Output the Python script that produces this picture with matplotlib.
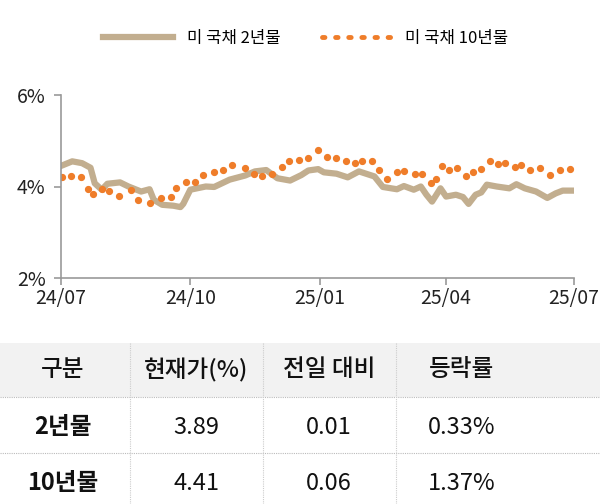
import matplotlib
matplotlib.use("Agg")
import matplotlib.pyplot as plt
from matplotlib import font_manager
import numpy as np
from matplotlib.patches import Rectangle

avail = {f.name for f in font_manager.fontManager.ttflist}
cands = ["Noto Sans CJK KR", "Noto Sans CJK JP", "Noto Sans CJK SC", "Noto Sans CJK TC"]
fams = [c for c in cands if c in avail] + ["DejaVu Sans"]
plt.rcParams["font.family"] = fams

series_names = ["미 국채 2년물", "미 국채 10년물"]
# days since 2024-07-01
days_2y = [0, 8, 15, 21, 24, 29, 33, 42, 48, 57, 63, 66, 72, 80, 85, 87, 92, 103, 109, 120, 131, 138, 146, 154, 163, 171, 176, 183, 187, 196, 204, 212, 223, 229, 239, 244, 251, 256, 260, 264, 270, 274, 281, 286, 290, 295, 299, 303, 310, 319, 324, 330, 338, 346, 352, 357, 363]
vals_2y = [4.45, 4.55, 4.51, 4.41, 4.07, 3.93, 4.06, 4.09, 4.00, 3.89, 3.94, 3.71, 3.60, 3.58, 3.55, 3.62, 3.93, 4.00, 3.99, 4.15, 4.24, 4.33, 4.36, 4.18, 4.13, 4.25, 4.35, 4.38, 4.31, 4.28, 4.20, 4.33, 4.22, 3.99, 3.94, 4.01, 3.93, 4.00, 3.82, 3.67, 3.96, 3.78, 3.82, 3.77, 3.62, 3.82, 3.87, 4.04, 4.00, 3.96, 4.05, 3.96, 3.89, 3.75, 3.85, 3.91, 3.91]
days_10y = [1, 7, 14, 19, 23, 29, 34, 41, 50, 55, 63, 71, 78, 82, 89, 95, 101, 109, 115, 122, 131, 137, 143, 150, 157, 162, 169, 176, 183, 189, 196, 203, 209, 214, 221, 226, 232, 239, 244, 252, 257, 263, 267, 271, 276, 282, 288, 293, 299, 305, 311, 316, 323, 327, 334, 341, 348, 355, 362]
vals_10y = [4.20, 4.24, 4.20, 3.95, 3.84, 3.94, 3.91, 3.80, 3.93, 3.71, 3.65, 3.75, 3.78, 3.96, 4.09, 4.09, 4.25, 4.31, 4.35, 4.46, 4.41, 4.27, 4.22, 4.27, 4.42, 4.56, 4.58, 4.63, 4.79, 4.64, 4.63, 4.55, 4.51, 4.56, 4.55, 4.35, 4.17, 4.31, 4.33, 4.27, 4.28, 4.07, 4.17, 4.45, 4.35, 4.41, 4.23, 4.31, 4.39, 4.55, 4.49, 4.52, 4.42, 4.47, 4.36, 4.40, 4.25, 4.35, 4.38]
x_tick_days = [0, 92, 184, 274, 365]
x_tick_labels = ["24/07", "24/10", "25/01", "25/04", "25/07"]
y_ticks = [2, 4, 6]
y_tick_labels = ["2%", "4%", "6%"]

table_header = ["구분", "현재가(%)", "전일 대비", "등락률"]
table_rows = [["2년물", "3.89", "0.01", "0.33%"],
              ["10년물", "4.41", "0.06", "1.37%"]]

c2 = "#c2ae8f"
c10 = "#ef7d2a"

fig = plt.figure(figsize=(6, 5.04), dpi=100)
W, H = 600, 504
ax = fig.add_axes([61/W, 1-278/H, (574-61)/W, (278-95)/H])
ax.plot(days_2y, vals_2y, color=c2, lw=4.5, solid_joinstyle="round", label=series_names[0])
ax.plot(days_10y, vals_10y, ls="none", marker="o", ms=4.2, color=c10, label=series_names[1])
ax.set_xlim(0, 365)
ax.set_ylim(2, 6)
ax.set_xticks(x_tick_days)
ax.set_xticklabels(x_tick_labels, fontsize=14)
ax.set_yticks(y_ticks)
ax.set_yticklabels(y_tick_labels, fontsize=14)
for s in ["top", "right"]:
    ax.spines[s].set_visible(False)
for s in ["left", "bottom"]:
    ax.spines[s].set_color("#999999")
    ax.spines[s].set_linewidth(1.2)
ax.tick_params(colors="#999999", labelcolor="#222222", length=5, width=1.2, pad=2)
ax.tick_params(axis="y", pad=6)

fig.legend(handles=[plt.Line2D([], [], color=c2, lw=4.5),
                    plt.Line2D([], [], color=c10, ls=(0, (0.5, 2.2)), lw=3.5, dash_capstyle="round")],
           labels=series_names, loc="center", bbox_to_anchor=(0.51, 1-38/H), ncol=2,
           frameon=False, fontsize=12, handlelength=4.2, columnspacing=2.5)

def fy(y):
    return 1 - y/H
fig.patches.append(Rectangle((0, fy(397)), 1, (397-343)/H, transform=fig.transFigure,
                             facecolor="#f2f2f2", edgecolor="none", zorder=0))
for yy in [397, 453]:
    fig.add_artist(plt.Line2D([0, 1], [fy(yy)]*2, transform=fig.transFigure, color="#bbbbbb", lw=0.8, ls=(0, (1, 1))))
for xx in [130, 263, 396]:
    fig.add_artist(plt.Line2D([xx/W]*2, [fy(343), 0], transform=fig.transFigure, color="#cccccc", lw=0.8, ls=(0, (1, 1))))
col_cx = [63, 196, 329, 462]
row_cy = [370, 427, 483]
for j, t in enumerate(table_header):
    fig.text(col_cx[j]/W, fy(row_cy[0]), t, ha="center", va="center", fontsize=17, color="#111111",
             fontweight="medium")
for i, row in enumerate(table_rows):
    for j, t in enumerate(row):
        fig.text(col_cx[j]/W, fy(row_cy[i+1]), t, ha="center", va="center", fontsize=17,
                 color="#111111", fontweight="bold" if j == 0 else "normal")

fig.savefig("out.png", dpi=100)
